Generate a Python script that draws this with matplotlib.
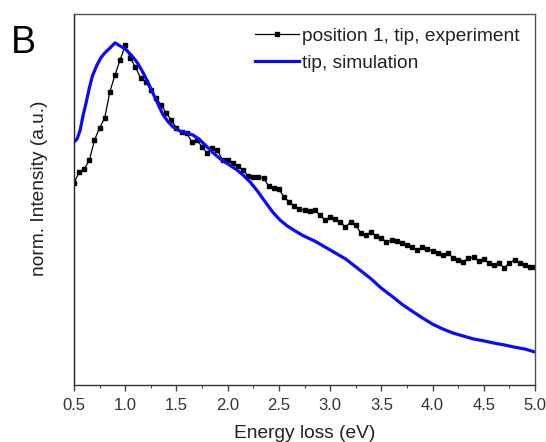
import numpy as np
import matplotlib
matplotlib.use("Agg")
import matplotlib.pyplot as plt
from matplotlib.ticker import MultipleLocator, NullLocator

plt.rcParams['font.family'] = ['Liberation Sans', 'DejaVu Sans']

# Measured EELS spectrum at the tip (0.05 eV steps from 0.5 to 5.0 eV)
exp_intensity = [
    0.544, 0.574, 0.582, 0.606, 0.660, 0.693, 0.720, 0.790, 0.836, 0.876,
    0.916, 0.881, 0.857, 0.827, 0.817, 0.795, 0.774, 0.755, 0.733, 0.714,
    0.693, 0.682, 0.679, 0.655, 0.660, 0.642, 0.625, 0.639, 0.633, 0.606,
    0.606, 0.598, 0.590, 0.580, 0.563, 0.561, 0.561, 0.558, 0.536, 0.531,
    0.528, 0.507, 0.493, 0.482, 0.474, 0.472, 0.469, 0.472, 0.458, 0.445,
    0.453, 0.447, 0.439, 0.426, 0.439, 0.431, 0.410, 0.404, 0.412, 0.402,
    0.396, 0.385, 0.391, 0.388, 0.383, 0.377, 0.372, 0.364, 0.372, 0.367,
    0.361, 0.356, 0.350, 0.356, 0.342, 0.337, 0.332, 0.342, 0.345, 0.334,
    0.340, 0.329, 0.323, 0.329, 0.315, 0.329, 0.337, 0.329, 0.323, 0.318,
    0.318,
]
exp_energy = np.linspace(0.5, 5.0, len(exp_intensity))

# Simulated spectrum at the tip
sim_energy = [
    0.50, 0.53, 0.56, 0.59, 0.62, 0.65, 0.68, 0.72, 0.76, 0.80,
    0.85, 0.90, 0.95, 1.00, 1.06, 1.12, 1.17, 1.22, 1.27, 1.32,
    1.37, 1.42, 1.47, 1.53, 1.60, 1.66, 1.72, 1.78, 1.86, 1.93,
    2.00, 2.08, 2.15, 2.22, 2.29, 2.36, 2.44, 2.51, 2.58, 2.66,
    2.74, 2.85, 3.00, 3.15, 3.29, 3.40, 3.50, 3.60, 3.70, 3.80,
    3.90, 4.00, 4.10, 4.20, 4.30, 4.40, 4.50, 4.60, 4.70, 4.80,
    4.90, 5.00,
]
sim_intensity = [
    0.655, 0.663, 0.687, 0.728, 0.763, 0.801, 0.833, 0.860, 0.881, 0.895,
    0.908, 0.922, 0.914, 0.906, 0.889, 0.868, 0.844, 0.817, 0.787, 0.757,
    0.728, 0.709, 0.695, 0.685, 0.679, 0.674, 0.663, 0.647, 0.625, 0.609,
    0.596, 0.582, 0.566, 0.547, 0.523, 0.496, 0.466, 0.445, 0.429, 0.415,
    0.402, 0.388, 0.364, 0.340, 0.310, 0.286, 0.261, 0.240, 0.218, 0.199,
    0.181, 0.164, 0.151, 0.140, 0.132, 0.124, 0.119, 0.113, 0.108, 0.102,
    0.097, 0.089,
]

x_ticks = [0.5, 1.0, 1.5, 2.0, 2.5, 3.0, 3.5, 4.0, 4.5, 5.0]

fig = plt.figure(figsize=(5.46, 4.42), dpi=100)
ax = fig.add_axes([74 / 546, 1 - 385 / 442, 461 / 546, 371 / 442])

ax.plot(exp_energy, exp_intensity, color='black', lw=0.9, marker='s',
        ms=3.2, mec='black', mfc='black', label='position 1, tip, experiment')
ax.plot(sim_energy, sim_intensity, color='#0a0aff', lw=2.3,
        label='tip, simulation')

ax.set_xlim(0.5, 5.0)
ax.set_ylim(0, 1)
ax.set_xticks(x_ticks)
ax.set_xticklabels([f"{t:.1f}" for t in x_ticks])
ax.xaxis.set_minor_locator(MultipleLocator(0.25))
ax.yaxis.set_major_locator(NullLocator())
ax.tick_params(axis='x', which='major', direction='out', length=4, width=1,
               labelsize=12, labelcolor='#333333', color='#444444', pad=5)
ax.tick_params(axis='x', which='minor', direction='out', length=2.5, width=0.8,
               color='#444444')
ax.tick_params(axis='x', top=False)
for side in ['left', 'right', 'top', 'bottom']:
    ax.spines[side].set_color('#555555')
    ax.spines[side].set_linewidth(1.0)
ax.spines['left'].set_color('#222222')
ax.spines['bottom'].set_color('#333333')

ax.set_xlabel('Energy loss (eV)', fontsize=13.8, color='#222222', labelpad=9)
ax.set_ylabel('norm. Intensity (a.u.)', fontsize=13.8, color='#222222')
ax.yaxis.set_label_coords(-0.057, 0.53)

leg = ax.legend(loc='upper right', frameon=False, fontsize=13.8,
                handlelength=2.3, handletextpad=0.12, borderaxespad=0.3,
                labelspacing=0.5, markerscale=1.0,
                bbox_to_anchor=(0.995, 1.0))
for txt in leg.get_texts():
    txt.set_color('#222222')

fig.text(11 / 546, 1 - 53 / 442, 'B', fontsize=27, color='black')

fig.savefig('out.png', dpi=100)
